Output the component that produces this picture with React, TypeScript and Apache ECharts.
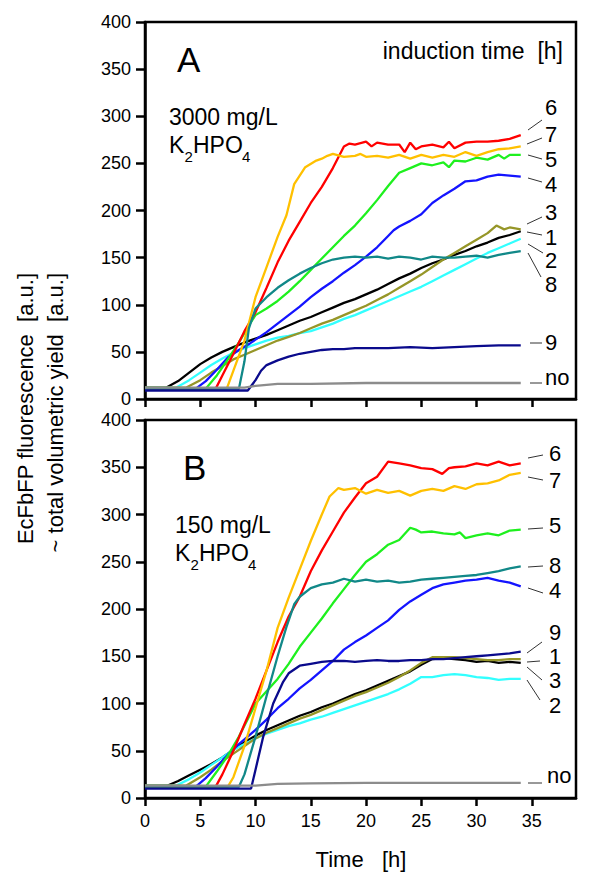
import React, { useEffect, useRef } from "react";
import * as echarts from "echarts";

// ---------- data (time [h], fluorescence [a.u.]) ----------
const X_TICKS = [0, 5, 10, 15, 20, 25, 30, 35];
const SERIES_NAMES = ["1", "2", "3", "4", "5", "6", "7", "8", "9", "no"];
const SERIES_COLORS = ["#000000", "#33ffff", "#969628", "#1414ff", "#1ef01e", "#ff0000", "#ffc000", "#118888", "#0a0a8c", "#8c8c8c"];

// Panel A: 3000 mg/L K2HPO4
const A_1 = [[0, 12], [1.9, 12], [3, 19], [4, 28], [5, 37], [6, 44], [7, 50], [8, 55], [9, 60], [10, 64], [11, 68], [12, 73], [13, 78], [14, 83], [15, 87], [16, 92], [17, 97], [18, 102], [19, 106], [20, 111], [21, 116], [22, 122], [23, 128], [24, 133], [25, 139], [26, 144], [27, 148], [28, 153], [29, 157], [30, 162], [31, 166], [32, 171], [33, 174], [34, 178]];
const A_2 = [[0, 12], [2.8, 12], [4, 20], [5, 28], [6, 36], [7, 43], [8, 49], [9, 54], [10, 58], [11, 62], [12, 65], [13, 67], [14, 70], [15, 72], [16, 76], [17, 80], [18, 85], [19, 89], [20, 94], [21, 99], [22, 104], [23, 109], [24, 114], [25, 119], [26, 125], [27, 131], [28, 137], [29, 143], [30, 149], [31, 155], [32, 160], [33, 165], [34, 170]];
const A_3 = [[0, 12], [3.7, 12], [5, 20], [6, 28], [7, 35], [8, 42], [9, 47], [10, 52], [11, 57], [12, 62], [13, 66], [14, 70], [15, 75], [16, 80], [17, 84], [18, 89], [19, 94], [20, 99], [21, 105], [22, 111], [23, 118], [24, 125], [25, 132], [26, 140], [27, 148], [28, 155], [29, 162], [30, 169], [31, 176], [31.8, 184], [32.5, 180], [33, 182], [34, 180]];
const A_4 = [[0, 11], [4.6, 11], [5.5, 19], [6.5, 31], [7.5, 44], [8.5, 52], [9.5, 59], [10, 63], [11, 71], [12, 80], [13, 89], [14, 98], [15, 108], [16, 117], [17, 125], [18, 134], [19, 142], [20, 151], [21, 161], [22, 173], [22.5, 179], [23, 183], [24, 189], [25, 196], [26, 208], [27, 216], [28, 223], [29, 231], [30, 232], [31, 236], [32, 238], [33, 237], [34, 236]];
const A_5 = [[0, 11], [5.5, 11], [6.5, 25], [7.5, 42], [8.5, 60], [9.5, 80], [10, 89], [11, 96], [12, 104], [13, 114], [14, 125], [15, 137], [16, 149], [17, 161], [18, 173], [19, 184], [20, 197], [21, 211], [22, 226], [23, 240], [24, 245], [25, 250], [26, 248], [27, 251], [27.5, 246], [28, 253], [29, 252], [30, 256], [31, 254], [32, 259], [32.5, 255], [33, 259], [34, 259]];
const A_6 = [[0, 11], [6.4, 11], [7, 25], [8, 48], [9, 72], [10, 92], [11, 118], [12, 145], [13, 168], [14, 188], [15, 208], [16, 225], [17, 245], [18, 268], [18.5, 271], [19, 270], [20, 273], [20.5, 268], [21, 272], [22, 270], [23, 270], [23.5, 262], [24, 272], [24.5, 265], [25, 268], [26, 270], [27, 267], [27.5, 273], [28, 266], [29, 272], [30, 273], [31, 273], [32, 274], [33, 276], [34, 280]];
const A_7 = [[0, 11], [7.4, 11], [8, 30], [9, 62], [10, 108], [11, 140], [12, 172], [12.8, 195], [13.5, 228], [14.5, 246], [15.5, 253], [16, 255], [16.5, 258], [17, 260], [18, 257], [19, 258], [19.5, 260], [20, 257], [21, 258], [22, 256], [23, 259], [24, 255], [25, 259], [26, 256], [27, 259], [28, 257], [29, 262], [30, 258], [31, 262], [32, 265], [33, 266], [34, 268]];
const A_8 = [[0, 11], [8.5, 11], [9, 40], [9.4, 75], [10, 96], [11, 108], [12, 118], [13, 126], [14, 133], [15, 139], [16, 144], [17, 148], [18, 150], [19, 151], [20, 150], [21, 151], [22, 149], [23, 151], [24, 150], [25, 148], [26, 151], [27, 150], [28, 150], [29, 151], [30, 152], [31, 150], [32, 153], [33, 155], [34, 157]];
const A_9 = [[0, 9], [9.3, 9], [10, 20], [10.5, 30], [11, 36], [12, 41], [13, 45], [14, 48], [15, 50], [16, 52], [17, 53], [18, 53], [19, 54], [20, 54], [22, 54], [24, 55], [26, 54], [28, 55], [30, 56], [32, 57], [34, 57]];
const A_NO = [[0, 12], [9, 12], [10, 14], [12, 16], [15, 16], [20, 17], [25, 17], [30, 17], [34, 17]];

// Panel B: 150 mg/L K2HPO4
const B_1 = [[0, 13], [2, 13], [3, 18], [4, 24], [5, 30], [6, 36], [7, 43], [8, 51], [9, 59], [10, 66], [11, 72], [12, 77], [13, 82], [14, 87], [15, 91], [16, 96], [17, 100], [18, 105], [19, 110], [20, 114], [21, 119], [22, 124], [23, 129], [24, 134], [25, 141], [26, 147], [27, 148], [28, 147], [29, 146], [30, 144], [31, 145], [32, 143], [33, 144], [34, 143]];
const B_2 = [[0, 13], [2.8, 13], [4, 20], [5, 27], [6, 35], [7, 43], [8, 51], [9, 57], [10, 63], [11, 68], [12, 72], [13, 76], [14, 79], [15, 83], [16, 86], [17, 90], [18, 94], [19, 98], [20, 102], [21, 106], [22, 110], [23, 115], [24, 121], [25, 128], [26, 128], [27, 130], [28, 131], [29, 130], [30, 128], [31, 127], [32, 125], [33, 126], [34, 126]];
const B_3 = [[0, 13], [3.7, 13], [5, 22], [6, 30], [7, 39], [8, 47], [9, 55], [10, 63], [11, 69], [12, 74], [13, 79], [14, 84], [15, 88], [16, 93], [17, 98], [18, 103], [19, 108], [20, 112], [21, 117], [22, 122], [23, 128], [24, 135], [25, 143], [26, 149], [27, 149], [28, 149], [29, 148], [30, 147], [31, 146], [32, 146], [33, 147], [34, 147]];
const B_4 = [[0, 12], [4.6, 12], [5.5, 21], [6.5, 33], [7.5, 46], [8.5, 57], [9.5, 67], [10, 72], [11, 83], [12, 95], [13, 105], [14, 116], [15, 125], [16, 135], [17, 145], [18, 157], [19, 165], [20, 172], [21, 180], [22, 188], [23, 199], [24, 208], [25, 215], [26, 222], [27, 226], [28, 228], [29, 230], [30, 231], [31, 233], [32, 230], [33, 228], [34, 224]];
const B_5 = [[0, 12], [5.5, 12], [6.5, 28], [7.5, 45], [8.5, 65], [9.5, 88], [10, 100], [11, 113], [12, 126], [13, 142], [14, 160], [15, 175], [16, 190], [17, 206], [18, 221], [19, 236], [20, 250], [21, 258], [22, 268], [23, 273], [24, 286], [24.5, 284], [25, 281], [26, 282], [27, 280], [28, 279], [28.5, 281], [29, 275], [30, 278], [31, 280], [32, 278], [33, 283], [34, 284]];
const B_6 = [[0, 12], [6.4, 12], [7, 25], [8, 50], [9, 78], [10, 105], [11, 135], [12, 165], [13, 192], [14, 213], [15, 240], [16, 262], [17, 282], [18, 302], [19, 318], [20, 333], [21, 340], [22, 356], [23, 354], [24, 352], [25, 349], [26, 348], [26.9, 343], [27.5, 349], [28, 350], [29, 351], [30, 354], [31, 352], [32, 356], [33, 352], [34, 354]];
const B_7 = [[0, 12], [7.5, 12], [8, 22], [9, 55], [10, 95], [11, 135], [12, 180], [13, 212], [14, 242], [15, 272], [16, 300], [16.7, 319], [17.5, 328], [18, 326], [19, 328], [20, 322], [21, 326], [22, 323], [23, 325], [24, 320], [25, 325], [26, 327], [27, 325], [28, 330], [29, 327], [30, 332], [31, 333], [32, 336], [33, 342], [34, 344]];
const B_8 = [[0, 12], [8.5, 12], [9, 25], [10, 65], [11, 108], [12, 150], [12.8, 181], [13.5, 205], [14, 213], [15, 222], [16, 226], [17, 228], [18, 232], [19, 229], [20, 231], [21, 229], [22, 230], [23, 228], [24, 229], [25, 231], [26, 232], [27, 233], [28, 234], [29, 235], [30, 236], [31, 238], [32, 240], [33, 243], [34, 245]];
const B_9 = [[0, 10], [9.6, 10], [10, 30], [10.7, 65], [11.6, 100], [12.5, 123], [13, 132], [14, 140], [15, 142], [16, 144], [17, 145], [18, 145], [19, 144], [20, 145], [21, 146], [22, 145], [23, 145], [24, 146], [25, 146], [26, 147], [27, 147], [28, 148], [29, 149], [30, 150], [31, 151], [32, 152], [33, 153], [34, 155]];
const B_NO = [[0, 13], [9, 13], [10, 13], [12, 15], [15, 15.5], [20, 16], [25, 16], [30, 16], [34, 16]];

const PANEL_A = [A_1, A_2, A_3, A_4, A_5, A_6, A_7, A_8, A_9, A_NO];
const PANEL_B = [B_1, B_2, B_3, B_4, B_5, B_6, B_7, B_8, B_9, B_NO];

const FONT = "Liberation Sans, Arial, sans-serif";

function txt(text: string, x: number, y: number, size: number, align = "left", extra: any = {}) {
  return {
    type: "text",
    x,
    y,
    silent: true,
    z: 100,
    ...extra,
    style: {
      text,
      fill: "#000",
      font: `${size}px ${FONT}`,
      textAlign: align,
      textVerticalAlign: "middle",
      verticalAlign: "middle",
    },
  };
}

function seg(x1: number, y1: number, x2: number, y2: number) {
  return {
    type: "line",
    silent: true,
    z: 100,
    shape: { x1, y1, x2, y2 },
    style: { stroke: "#333", lineWidth: 1 },
  };
}

export default function App() {
  const ref = useRef<HTMLDivElement>(null);

  useEffect(() => {
    if (!ref.current) return;
    const chart = echarts.init(ref.current, null, { renderer: "svg" });

    const grids = [
      { left: 145, top: 22, width: 431, height: 377 },
      { left: 145, top: 420, width: 431, height: 378 },
    ].map((g) => ({ ...g, show: true, borderColor: "#000", borderWidth: 2.5, backgroundColor: "transparent" }));

    const xAxes = [0, 1].map((i) => ({
      type: "value",
      gridIndex: i,
      min: 0,
      max: 39,
      interval: 5,
      axisLine: { show: true, onZero: false, lineStyle: { color: "#000", width: 2.5 } },
      axisTick: { show: true, customValues: X_TICKS, length: 8, inside: false, lineStyle: { color: "#000", width: 2.5 } },
      axisLabel: {
        show: i === 1,
        customValues: X_TICKS,
        color: "#000",
        fontSize: 18,
        fontFamily: FONT,
        margin: 14,
      },
      splitLine: { show: false },
    }));

    const yAxes = [0, 1].map((i) => ({
      type: "value",
      gridIndex: i,
      min: 0,
      max: 400,
      interval: 50,
      axisLine: { show: true, onZero: false, lineStyle: { color: "#000", width: 2.5 } },
      axisTick: { show: true, length: 9, inside: false, lineStyle: { color: "#000", width: 2.5 } },
      axisLabel: { color: "#000", fontSize: 18, fontFamily: FONT, margin: 14 },
      splitLine: { show: false },
    }));

    const series: any[] = [];
    [PANEL_A, PANEL_B].forEach((panel, p) => {
      panel.forEach((data, k) => {
        series.push({
          type: "line",
          name: `${p === 0 ? "A" : "B"}-${SERIES_NAMES[k]}`,
          xAxisIndex: p,
          yAxisIndex: p,
          data,
          showSymbol: false,
          symbol: "none",
          smooth: false,
          lineStyle: { color: SERIES_COLORS[k], width: 2.3 },
          itemStyle: { color: SERIES_COLORS[k] },
          silent: true,
          z: 2,
        });
      });
    });

    const graphic: any[] = [
      // Panel A texts
      txt("A", 177, 59, 35),
      txt("induction time  [h]", 563, 51, 23, "right"),
      txt("3000 mg/L", 169, 117, 23),
      txt("K", 169, 145, 23),
      txt("2", 184.5, 156, 15),
      txt("HPO", 193, 145, 23),
      txt("4", 242, 156, 15),
      // Panel B texts
      txt("B", 183, 467, 35),
      txt("150 mg/L", 175, 525, 23),
      txt("K", 175, 553, 23),
      txt("2", 190.5, 564, 15),
      txt("HPO", 199, 553, 23),
      txt("4", 248, 564, 15),
      // Panel A curve labels
      txt("6", 545, 107.5, 22),
      txt("7", 545, 134, 22),
      txt("5", 545, 159, 22),
      txt("4", 545, 184, 22),
      txt("3", 545, 212, 22),
      txt("1", 545, 237.5, 22),
      txt("2", 545, 260.5, 22),
      txt("8", 545, 284, 22),
      txt("9", 545, 342.5, 22),
      txt("no", 545, 377, 22),
      seg(528, 130, 542, 120),
      seg(527, 144, 542, 138),
      seg(528, 155, 542, 159),
      seg(528, 178, 542, 182),
      seg(527, 224, 542, 217),
      seg(527, 232, 542, 235),
      seg(528, 244, 543, 253),
      seg(528, 253, 541, 277),
      seg(530, 343, 542, 343),
      seg(530, 383, 542, 383),
      // Panel B curve labels
      txt("6", 549, 453.7, 22),
      txt("7", 549, 480.5, 22),
      txt("5", 549, 525.7, 22),
      txt("8", 549, 565.7, 22),
      txt("4", 549, 590.7, 22),
      txt("9", 549, 632.5, 22),
      txt("1", 549, 656.5, 22),
      txt("3", 549, 680.5, 22),
      txt("2", 549, 705.5, 22),
      txt("no", 547, 775.5, 22),
      seg(528, 458, 543, 455),
      seg(528, 477, 543, 480),
      seg(528, 529, 543, 528),
      seg(528, 567, 543, 566),
      seg(528, 588, 543, 593),
      seg(527, 653, 542, 642),
      seg(527, 662, 540, 661),
      seg(527, 667, 542, 680),
      seg(527, 680, 540, 700),
      seg(528, 783, 542, 783),
      // axis titles
      txt("Time   [h]", 361, 859, 22, "center"),
      txt("EcFbFP fluorescence  [a.u.]", 25.5, 273, 22, "right", { rotation: Math.PI / 2 }),
      txt("~ total volumetric yield  [a.u.]", 55.5, 273, 22, "right", { rotation: Math.PI / 2 }),
    ];

    chart.setOption({
      animation: false,
      backgroundColor: "#ffffff",
      grid: grids,
      xAxis: xAxes,
      yAxis: yAxes,
      series,
      graphic,
    });

    return () => chart.dispose();
  }, []);

  return (
    <div
      ref={ref}
      style={{ position: "absolute", left: 0, top: 0, width: 600, height: 883, background: "#fff" }}
    />
  );
}
